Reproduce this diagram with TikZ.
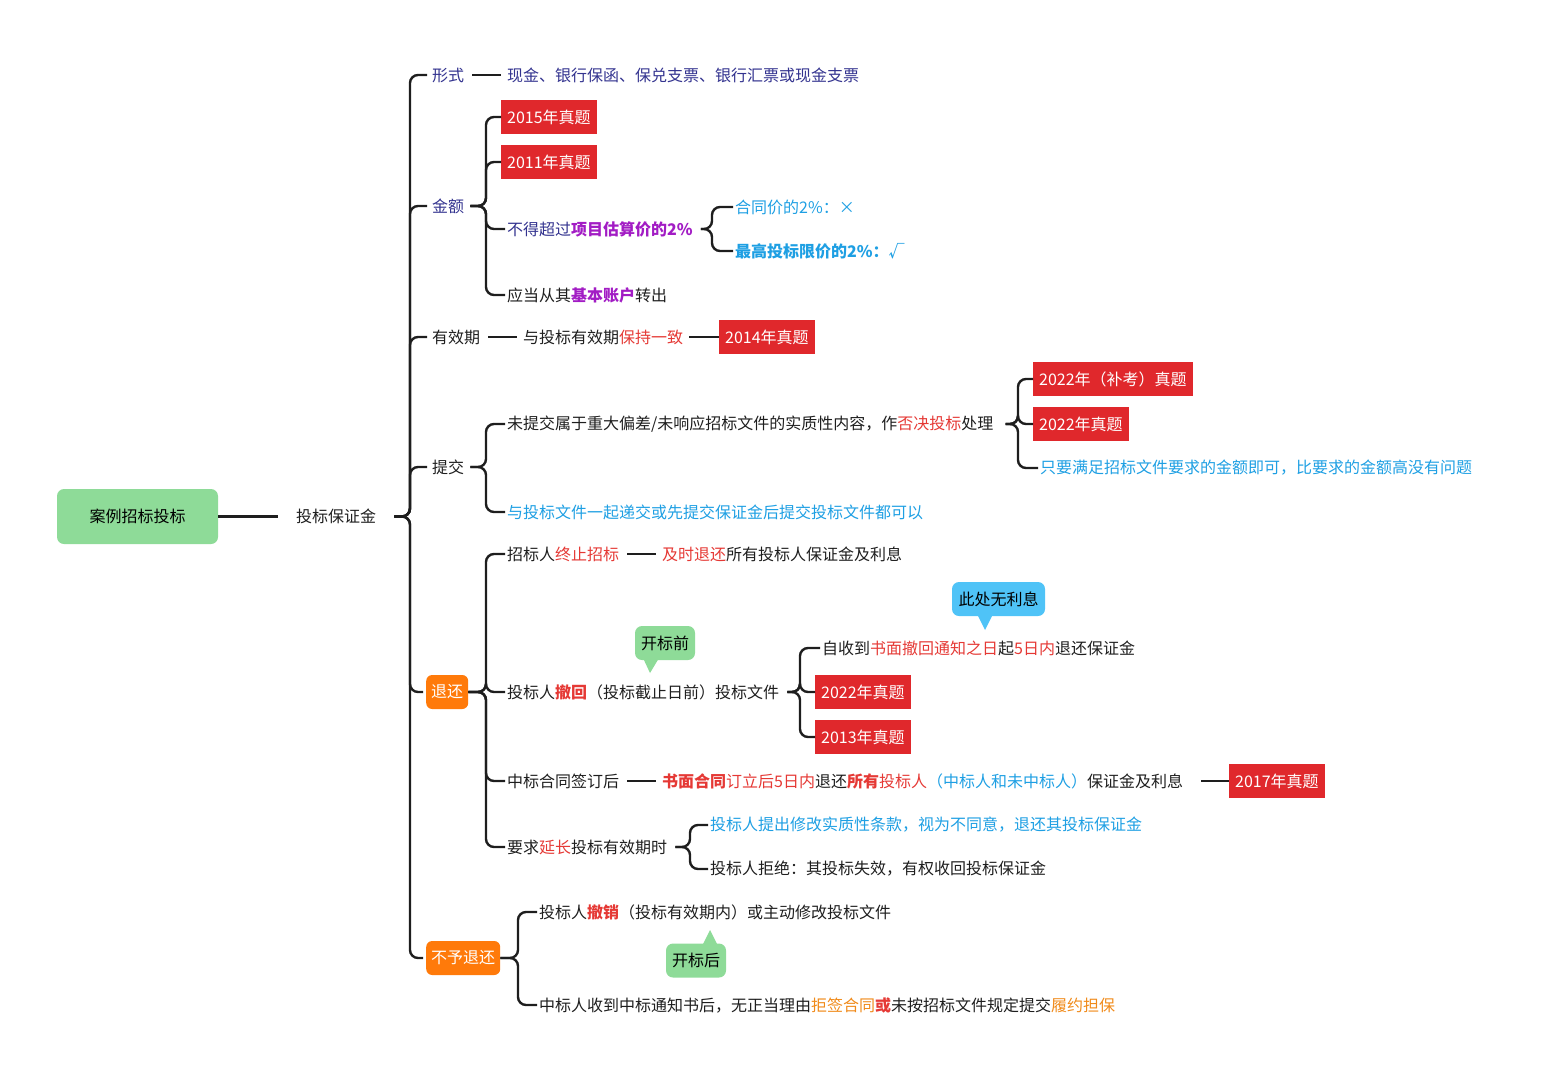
\documentclass[tikz,border=0pt]{standalone}
\usepackage{fontspec}
\setmainfont{Noto Sans CJK SC}
\definecolor{tagred}{HTML}{E0282C}
\definecolor{rtxt}{HTML}{E53935}
\definecolor{pur}{HTML}{A21CC4}
\definecolor{blu}{HTML}{1E9FE3}
\definecolor{navy}{HTML}{33338F}
\definecolor{org}{HTML}{FF7A0A}
\definecolor{otxt}{HTML}{F08A1A}
\definecolor{grn}{HTML}{8EDB98}
\definecolor{cblu}{HTML}{4FC3F7}
\definecolor{ln}{HTML}{1E1E1E}
\begin{document}
\begin{tikzpicture}[x=1pt,y=-1pt,
  t/.style={anchor=west,inner sep=2pt,font=\fontsize{16}{19}\selectfont,text=ln},
  tag/.style={t,fill=tagred,text=white,minimum height=34,inner xsep=6pt},
  obox/.style={t,fill=org,text=white,rounded corners=6,minimum height=34,inner xsep=5pt},
  ln/.style={draw=ln,line width=2.4pt},
  br/.style={ln,rounded corners=8}]
\useasboundingbox (0,0) rectangle (1544,1080);
\node[fill=grn,rounded corners=7,minimum width=161,minimum height=55,font=\fontsize{16}{19}\selectfont] (root) at (137.5,516.5) {案例招标投标};
\node[t] (bz) at (294,516.5) {投标保证金};
\draw[ln] (root.east) -- ([xshift=-16]root.east -| bz.west);
\coordinate (b0) at (410,0);
\coordinate (b1) at (486,0);
\node[t,text=navy] (xs) at (430,75) {形式};
\node[t,text=navy] (je) at (430,206) {金额};
\node[t] (yxq) at (430,337) {有效期};
\node[t] (tj) at (430,467) {提交};
\node[obox] (th) at (426,692) {退还};
\node[obox] (bth) at (426,958) {不予退还};
\foreach \c in {xs,je,yxq,tj,th,bth}{\draw[br] ([xshift=16]bz.east) -- (bz.east -| b0) |- ([xshift=-3]\c.west);}
% 形式
\node[t,text=navy] (xs1) at (505,75) {现金、银行保函、保兑支票、银行汇票或现金支票};
\draw[ln] ([xshift=6]xs.east) -- ([xshift=-4]xs1.west);
% 金额
\node[tag] (t2015) at (501,117) {2015年真题};
\node[tag] (t2011) at (501,162) {2011年真题};
\node[t,text=navy] (bd) at (505,229) {不得超过{\bfseries\color{pur}项目估算价的2\%}};
\node[t] (yd) at (505,295) {应当从其{\bfseries\color{pur}基本账户}转出};
\foreach \c in {t2015,t2011,bd,yd}{\draw[br] ([xshift=4]je.east) -- (je.east -| b1) |- (\c.west);}
\coordinate (b2) at (712,0);
\node[t,text=blu] (ht) at (733,207) {合同价的2\%：×};
\node[t,text=blu,font=\fontsize{16}{19}\selectfont\bfseries] (zg) at (733,251) {最高投标限价的2\%：√};
\foreach \c in {ht,zg}{\draw[br] ([xshift=6]bd.east) -- (bd.east -| b2) |- (\c.west);}
% 有效期
\node[t] (yx1) at (521,337) {与投标有效期{\color{rtxt}保持一致}};
\node[tag] (t2014) at (719,337) {2014年真题};
\draw[ln] ([xshift=6]yxq.east) -- ([xshift=-4]yx1.west);
\draw[ln] ([xshift=4]yx1.east) -- (t2014.west);
% 提交
\node[t] (wtj) at (505,424) {未提交属于重大偏差/未响应招标文件的实质性内容，作{\color{rtxt}否决投标}处理};
\node[t,text=blu] (yt) at (505,512) {与投标文件一起递交或先提交保证金后提交投标文件都可以};
\foreach \c in {wtj,yt}{\draw[br] ([xshift=4]tj.east) -- (tj.east -| b1) |- (\c.west);}
\coordinate (b3) at (1018,0);
\node[tag] (t22b) at (1033,379) {2022年（补考）真题};
\node[tag] (t22) at (1033,424) {2022年真题};
\node[t,text=blu] (zy) at (1038,468) {只要满足招标文件要求的金额即可，比要求的金额高没有问题};
\foreach \c in {t22b,t22,zy}{\draw[br] ([xshift=10]wtj.east) -- (wtj.east -| b3) |- (\c.west);}
% 退还
\node[t] (zz) at (505,554) {招标人{\color{rtxt}终止招标}};
\node[t] (ch) at (505,692) {投标人{\bfseries\color{rtxt}撤回}（投标截止日前）投标文件};
\node[t] (qd) at (505,781) {中标合同签订后};
\node[t] (yc) at (505,847) {要求{\color{rtxt}延长}投标有效期时};
\foreach \c in {zz,ch,qd,yc}{\draw[br] (th.east) -- (th.east -| b1) |- (\c.west);}
\node[t] (js) at (660,554) {{\color{rtxt}及时退还}所有投标人保证金及利息};
\draw[ln] ([xshift=6]zz.east) -- ([xshift=-4]js.west);
\coordinate (b4) at (800,0);
\node[t] (zs) at (820,648) {自收到{\color{rtxt}书面撤回通知之日}起{\color{rtxt}5日内}退还保证金};
\node[tag] (t22c) at (815,692) {2022年真题};
\node[tag] (t13) at (815,737) {2013年真题};
\foreach \c in {zs,t22c,t13}{\draw[br] ([xshift=6]ch.east) -- (ch.east -| b4) |- (\c.west);}
\node[t] (sm) at (660,781) {{\bfseries\color{rtxt}书面合同}{\color{rtxt}订立后5日内}退还{\bfseries\color{rtxt}所有}{\color{rtxt}投标人}{\color{blu}（中标人和未中标人）}保证金及利息};
\node[tag] (t17) at (1229,781) {2017年真题};
\draw[ln] ([xshift=6]qd.east) -- ([xshift=-4]sm.west);
\draw[ln] ([xshift=16]sm.east) -- (t17.west);
\coordinate (b5) at (690,0);
\node[t,text=blu] (tc) at (708,825) {投标人提出修改实质性条款，视为不同意，退还其投标保证金};
\node[t] (jj) at (708,869) {投标人拒绝：其投标失效，有权收回投标保证金};
\foreach \c in {tc,jj}{\draw[br] ([xshift=6]yc.east) -- (yc.east -| b5) |- (\c.west);}
% 不予退还
\coordinate (b6) at (518,0);
\node[t] (cx) at (537,912) {投标人{\bfseries\color{rtxt}撤销}（投标有效期内）或主动修改投标文件};
\node[t] (zb) at (537,1005) {中标人收到中标通知书后，无正当理由{\color{otxt}拒签合同}{\bfseries\color{rtxt}或}未按招标文件规定提交{\color{otxt}履约担保}};
\foreach \c in {cx,zb}{\draw[br] (bth.east) -- (bth.east -| b6) |- (\c.west);}
% callouts
\node[fill=grn,rounded corners=7,minimum width=60,minimum height=34,font=\fontsize{16}{19}\selectfont] (kbq) at (665,643) {开标前};
\fill[grn] (643,658) -- (659,658) -- (650,673) -- cycle;
\node[fill=cblu,rounded corners=7,minimum width=93,minimum height=34,font=\fontsize{16}{19}\selectfont] (wlx) at (998.5,599) {此处无利息};
\fill[cblu] (977,614) -- (993,614) -- (985,630) -- cycle;
\node[fill=grn,rounded corners=7,minimum width=60,minimum height=34,font=\fontsize{16}{19}\selectfont] (kbh) at (696,960.5) {开标后};
\fill[grn] (702,946) -- (718,946) -- (710,930) -- cycle;
\end{tikzpicture}
\end{document}
